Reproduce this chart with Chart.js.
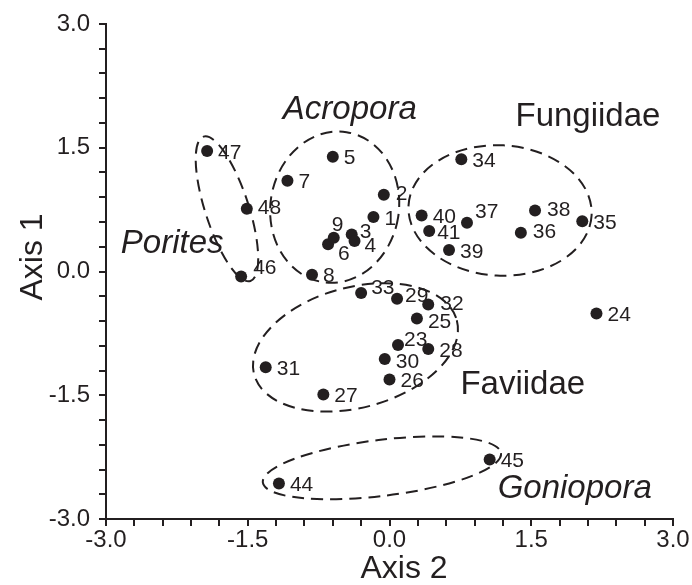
<!DOCTYPE html>
<html lang="en">
<head>
    <meta charset="UTF-8">
    <title>Coral ordination</title>
    <script src="https://cdn.jsdelivr.net/npm/chart.js@4.4.1/dist/chart.umd.min.js"></script>
    <style>
        * {
            margin: 0;
            padding: 0;
            box-sizing: border-box;
        }

        body {
            background: white;
        }
    </style>
</head>
<body>
    <canvas id="ordination" width="692" height="585"></canvas>

    <script>
        // sample numbers and their scores
        const sampleIds = [1, 2, 3, 4, 5, 6, 7, 8, 9,
            23, 24, 25, 26, 27, 28, 29, 30, 31, 32, 33,
            34, 35, 36, 37, 38, 39, 40, 41,
            44, 45, 46, 47, 48];
        const axis2 = [-0.17, -0.06, -0.40, -0.37, -0.60, -0.65, -1.08, -0.82, -0.59,
            0.09, 2.19, 0.29, 0.00, -0.70, 0.41, 0.08, -0.05, -1.31, 0.41, -0.30,
            0.76, 2.04, 1.39, 0.82, 1.54, 0.63, 0.34, 0.42,
            -1.17, 1.06, -1.57, -1.93, -1.51];
        const axis1 = [0.66, 0.93, 0.45, 0.37, 1.39, 0.33, 1.10, -0.04, 0.41,
            -0.89, -0.51, -0.57, -1.31, -1.49, -0.94, -0.33, -1.06, -1.16, -0.40, -0.26,
            1.36, 0.61, 0.47, 0.59, 0.74, 0.26, 0.68, 0.49,
            -2.57, -2.28, -0.06, 1.46, 0.76];

        // group envelopes (centre, half widths in axis units, tilt in degrees)
        const groupNames = ['Porites', 'Acropora', 'Fungiidae', 'Faviidae', 'Goniopora'];
        const groupItalic = [true, true, false, false, true];
        const groupCx = [-1.72, -0.58, 1.17, -0.36, -0.08];
        const groupCy = [0.76, 0.78, 0.74, -0.92, -2.38];
        const groupRx = [0.23, 0.68, 0.97, 1.11, 1.27];
        const groupRy = [0.92, 0.92, 0.79, 0.73, 0.34];
        const groupTilt = [-18, 9, 3, -15, -7];
        const groupLabelX = [-2.30, -0.42, 2.10, 1.41, 1.96];
        const groupLabelY = [0.36, 1.99, 1.90, -1.35, -2.61];

        // axis ticks
        const tickMin = -3;
        const tickMax = 3;
        const tickStep = 0.3;
        const tickValues = [-3, -1.5, 0, 1.5, 3];
        const tickLabels = ['-3.0', '-1.5', '0.0', '1.5', '3.0'];

        const ink = '#231f20';
        const font = 'Arial, "Liberation Sans", sans-serif';

        // label nudges in pixels where the number is not simply to the right
        const labelShift = {
            2: [12, -2], 3: [8, -4], 4: [10, 4], 6: [10, 8], 9: [-2, -14],
            23: [6, -6], 25: [11, 2], 29: [8, -4], 30: [11, 2], 32: [12, -2], 33: [10, -6],
            36: [12, -2], 37: [8, -12], 38: [12, -2], 41: [8, 0], 46: [12, -10], 48: [11, -2]
        };

        function tickText(v) {
            const i = tickValues.findIndex(t => Math.abs(t - v) < 1e-6);
            return i < 0 ? '' : tickLabels[i];
        }

        const overlay = {
            id: 'overlay',
            afterDatasetsDraw(chart) {
                const ctx = chart.ctx;
                const x = chart.scales.x;
                const y = chart.scales.y;
                ctx.save();

                // dashed envelopes
                ctx.strokeStyle = ink;
                ctx.lineWidth = 2;
                ctx.setLineDash([12, 7]);
                groupNames.forEach((g, i) => {
                    const cx = x.getPixelForValue(groupCx[i]);
                    const cy = y.getPixelForValue(groupCy[i]);
                    const rx = x.getPixelForValue(groupCx[i] + groupRx[i]) - cx;
                    const ry = cy - y.getPixelForValue(groupCy[i] + groupRy[i]);
                    ctx.beginPath();
                    ctx.ellipse(cx, cy, rx, ry, groupTilt[i] * Math.PI / 180, 0, Math.PI * 2);
                    ctx.stroke();
                });
                ctx.setLineDash([]);

                // sample numbers
                ctx.fillStyle = ink;
                ctx.font = '21px ' + font;
                ctx.textAlign = 'left';
                ctx.textBaseline = 'alphabetic';
                sampleIds.forEach((id, i) => {
                    const s = labelShift[id] || [11, 0];
                    const px = x.getPixelForValue(axis2[i]);
                    const py = y.getPixelForValue(axis1[i]);
                    ctx.fillText(String(id), px + s[0], py + s[1] + 7.5);
                });

                // group names
                ctx.textAlign = 'center';
                groupNames.forEach((g, i) => {
                    ctx.font = (groupItalic[i] ? 'italic ' : '') + '33px ' + font;
                    ctx.fillText(g, x.getPixelForValue(groupLabelX[i]), y.getPixelForValue(groupLabelY[i]) + 11.5);
                });

                // axis titles
                ctx.font = '32px ' + font;
                ctx.fillText('Axis 2', 404, 578);
                ctx.translate(42, 257);
                ctx.rotate(-Math.PI / 2);
                ctx.fillText('Axis 1', 0, 0);
                ctx.restore();
            }
        };

        function axisOptions(size) {
            return {
                type: 'linear',
                min: tickMin,
                max: tickMax,
                afterFit: size,
                border: { display: true, color: ink, width: 2 },
                grid: {
                    drawOnChartArea: false,
                    drawTicks: true,
                    tickLength: 7,
                    color: ink,
                    lineWidth: 2
                },
                ticks: {
                    stepSize: tickStep,
                    maxTicksLimit: 40,
                    autoSkip: false,
                    maxRotation: 0,
                    color: ink,
                    font: { family: font, size: 24 },
                    callback: v => tickText(v)
                }
            };
        }

        const xAxis = axisOptions(s => { s.height = 66; });
        xAxis.ticks.padding = 0;
        const yAxis = axisOptions(s => { s.width = 106; });
        yAxis.ticks.padding = 9;

        new Chart(document.getElementById('ordination'), {
            type: 'scatter',
            data: {
                datasets: [{
                    data: sampleIds.map((id, i) => ({ x: axis2[i], y: axis1[i] })),
                    pointRadius: 6,
                    pointHoverRadius: 6,
                    pointBackgroundColor: ink,
                    pointBorderWidth: 0
                }]
            },
            options: {
                responsive: false,
                animation: false,
                layout: { padding: { left: 0, top: 24, right: 19, bottom: 0 } },
                plugins: {
                    legend: { display: false },
                    tooltip: { enabled: false }
                },
                scales: {
                    x: xAxis,
                    y: yAxis
                }
            },
            plugins: [overlay]
        });
    </script>
</body>
</html>
